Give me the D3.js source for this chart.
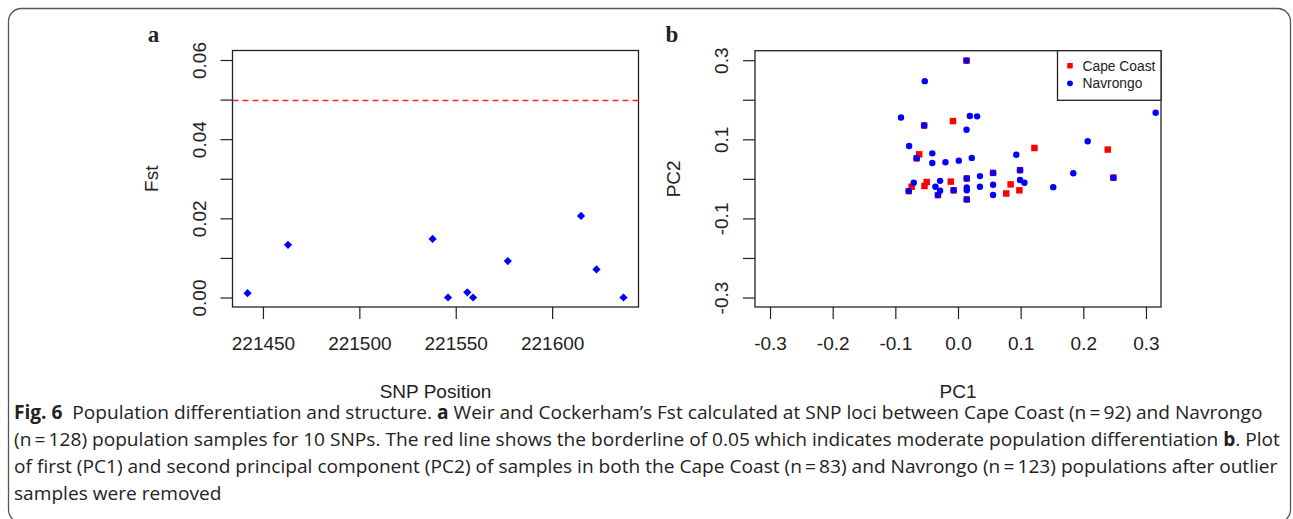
<!DOCTYPE html>
<html>
<head>
<meta charset="utf-8">
<script src="https://cdn.jsdelivr.net/npm/d3@7"></script>
<style>
  body { margin: 0; background: #fff; }
  svg text { font-family: "Liberation Sans", Arial, sans-serif; fill: #222; }
  .caption text { font-family: "Open Sans", "Noto Sans", sans-serif; }
</style>
</head>
<body>
<div id="fig"></div>
<script>
// ---- panel a : Fst per SNP
const snpPos = [221442, 221463, 221538, 221546, 221556, 221559, 221577, 221615, 221623, 221637];
const fstVal = [0.0011, 0.0133, 0.0148, 0.0000, 0.0013, 0.0000, 0.0092, 0.0206, 0.0071, 0.0000];
const fstXTicks = [221450, 221500, 221550, 221600];
const fstYTicks = [0, 0.01, 0.02, 0.03, 0.04, 0.05, 0.06];
const fstYLabels = ["0.00", "", "0.02", "", "0.04", "", "0.06"];
const fstLimit = [0, 0.06];
const fstCutoff = 0.05;

// ---- panel b : PCA
const capeX = [0.0136, -0.054, -0.008, -0.062, -0.066, 0.122, 0.239, 0.099, 0.248, 0.056, 0.014, 0.014,
  -0.007, -0.032, -0.0786, -0.0115, -0.050, -0.0535, -0.074, 0.084, 0.077, 0.098];
const capeY = [0.299, 0.135, 0.146, 0.062, 0.052, 0.078, 0.074, 0.022, 0.003, 0.015, 0.001, -0.052,
  -0.029, -0.041, -0.031, -0.007, -0.008, -0.018, -0.020, -0.014, -0.037, -0.029];
const navX = [-0.091, -0.053, 0.0136, 0.019, 0.0305, 0.0136, -0.054, -0.078, 0.3155, 0.207, -0.041, -0.041,
  -0.020, 0.0013, 0.022, -0.066, 0.093, 0.099, 0.184, 0.248, 0.152, 0.056, 0.056, 0.056, 0.035, 0.035,
  0.014, 0.014, 0.014, 0.014, 0.099, 0.106, -0.007, -0.0286, -0.0286, -0.036, -0.032, -0.0706, -0.0786];
const navY = [0.155, 0.247, 0.299, 0.159, 0.158, 0.124, 0.135, 0.083, 0.167, 0.095, 0.0645, 0.040,
  0.042, 0.046, 0.053, 0.052, 0.061, 0.022, 0.014, 0.003, -0.021, 0.015, -0.015, -0.041, 0.007, -0.020,
  0.001, -0.0215, -0.029, -0.052, -0.003, -0.010, -0.029, -0.005, -0.030, -0.020, -0.041, -0.010, -0.031];
const pcTicks = [-0.3, -0.2, -0.1, 0, 0.1, 0.2, 0.3];
const pcXLabels = ["-0.3", "-0.2", "-0.1", "0.0", "0.1", "0.2", "0.3"];
const pcYLabels = ["-0.3", "", "-0.1", "", "0.1", "", "0.3"];
const pcLimit = [-0.3, 0.3];
const groups = ["Cape Coast", "Navrongo"];

// ---- caption, one entry per line, [text, bold]
const captionLines = [
  [["Fig. 6", true], ["  Population differentiation and structure. ", false], ["a", true],
   [" Weir and Cockerham\u2019s Fst calculated at SNP loci between Cape Coast (n\u2009=\u200992) and Navrongo", false]],
  [["(n\u2009=\u2009128) population samples for 10 SNPs. The red line shows the borderline of 0.05 which indicates moderate population differentiation ", false],
   ["b", true], [". Plot", false]],
  [["of first (PC1) and second principal component (PC2) of samples in both the Cape Coast (n\u2009=\u200983) and Navrongo (n\u2009=\u2009123) populations after outlier", false]],
  [["samples were removed", false]]
];

const W = 1293, H = 519;
const svg = d3.select("#fig").append("svg").attr("width", W).attr("height", H);

svg.append("rect")
  .attr("x", 8.5).attr("y", 8.5).attr("width", 1282).attr("height", 514).attr("rx", 13)
  .attr("fill", "none").attr("stroke", "#555").attr("stroke-width", 1.3);

// R style 4% padding of the axis range
function rpad(ext) {
  const d = (ext[1] - ext[0]) * 0.04;
  return [ext[0] - d, ext[1] + d];
}

function drawPanel(opt) {
  const g = svg.append("g");
  const x = d3.scaleLinear().domain(opt.xDomain).range([opt.left, opt.right]);
  const y = d3.scaleLinear().domain(opt.yDomain).range([opt.bottom, opt.top]);

  const xa = g.append("g")
    .attr("transform", "translate(0," + opt.bottom + ")")
    .call(d3.axisBottom(x).tickValues(opt.xTicks).tickSize(12).tickSizeOuter(0).tickPadding(18)
      .tickFormat((d, i) => opt.xLabels[i]));
  xa.select(".domain").remove();
  xa.selectAll("line").attr("stroke", "#222").attr("stroke-width", 1.2);
  xa.selectAll("text").style("font-size", "19px").attr("fill", "#222")
    .style("font-family", "'Liberation Sans', Arial, sans-serif");

  const ya = g.append("g")
    .attr("transform", "translate(" + opt.left + ",0)")
    .call(d3.axisLeft(y).tickValues(opt.yTicks).tickSize(12).tickSizeOuter(0)
      .tickFormat((d, i) => opt.yLabels[i]));
  ya.select(".domain").remove();
  ya.selectAll("line").attr("stroke", "#222").attr("stroke-width", 1.2);
  ya.selectAll("text")
    .attr("x", null).attr("dy", null)
    .attr("transform", "translate(" + opt.yLabelOff + ",0) rotate(-90)")
    .attr("text-anchor", "middle")
    .attr("fill", "#222")
    .style("font-size", "19px")
    .style("font-family", "'Liberation Sans', Arial, sans-serif");

  g.append("text")
    .attr("x", (opt.left + opt.right) / 2).attr("y", 397.5)
    .attr("text-anchor", "middle").style("font-size", "19px")
    .text(opt.xTitle);
  g.append("text")
    .attr("transform", "translate(" + opt.yTitleX + "," + (opt.top + opt.bottom) / 2 + ") rotate(-90)")
    .attr("text-anchor", "middle").style("font-size", "19px")
    .text(opt.yTitle);

  g.append("text")
    .attr("x", opt.letterX).attr("y", 42)
    .attr("text-anchor", "middle")
    .style("font-family", "'Liberation Serif', 'Times New Roman', serif")
    .style("font-weight", "bold").style("font-size", "23px")
    .text(opt.letter);

  g.append("rect")
    .attr("x", opt.left).attr("y", opt.top)
    .attr("width", opt.right - opt.left).attr("height", opt.bottom - opt.top)
    .attr("fill", "none").attr("stroke", "#222").attr("stroke-width", 1.3);

  return {g: g, x: x, y: y};
}

// panel a
const pa = drawPanel({
  left: 232.5, right: 638.5, top: 50.5, bottom: 307,
  xDomain: rpad(d3.extent(snpPos)), yDomain: rpad(fstLimit),
  xTicks: fstXTicks, xLabels: fstXTicks.map(String),
  yTicks: fstYTicks, yLabels: fstYLabels, yLabelOff: -26.5,
  xTitle: "SNP Position", yTitle: "Fst", yTitleX: 158, letter: "a", letterX: 153.5
});

pa.g.append("line")
  .attr("x1", pa.x.range()[0]).attr("x2", pa.x.range()[1])
  .attr("y1", Math.round(pa.y(fstCutoff)) + 0.5).attr("y2", Math.round(pa.y(fstCutoff)) + 0.5)
  .attr("stroke", "#ff2020").attr("stroke-width", 1.4).attr("stroke-dasharray", "6,4");

const diamond = d3.symbol().type(d3.symbolSquare).size(34);
pa.g.selectAll("path.fst")
  .data(snpPos)
  .join("path")
  .attr("class", "fst")
  .attr("d", diamond)
  .attr("transform", (d, i) => "translate(" + pa.x(d) + "," + pa.y(fstVal[i]) + ") rotate(45)")
  .attr("fill", "#0000ff");

// panel b
const pb = drawPanel({
  left: 755, right: 1161, top: 50.7, bottom: 307,
  xDomain: rpad(pcLimit), yDomain: rpad(pcLimit),
  xTicks: pcTicks, xLabels: pcXLabels,
  yTicks: pcTicks, yLabels: pcYLabels, yLabelOff: -27,
  xTitle: "PC1", yTitle: "PC2", yTitleX: 680, letter: "b", letterX: 672
});

const square = d3.symbol().type(d3.symbolSquare).size(42);
pb.g.selectAll("path.cape")
  .data(capeX)
  .join("path")
  .attr("class", "cape")
  .attr("d", square)
  .attr("transform", (d, i) => "translate(" + pb.x(d) + "," + pb.y(capeY[i]) + ")")
  .attr("fill", "#ff0000");

pb.g.selectAll("circle.nav")
  .data(navX)
  .join("circle")
  .attr("class", "nav")
  .attr("cx", d => pb.x(d))
  .attr("cy", (d, i) => pb.y(navY[i]))
  .attr("r", 3.2)
  .attr("fill", "#0000ff");

// legend
const lg = pb.g.append("g");
lg.append("rect")
  .attr("x", 1057.5).attr("y", 50.7).attr("width", 1161 - 1057.5).attr("height", 49.6)
  .attr("fill", "#fff").attr("stroke", "#222").attr("stroke-width", 1.3);
lg.append("path")
  .attr("d", d3.symbol().type(d3.symbolSquare).size(30))
  .attr("transform", "translate(1070,65.7)").attr("fill", "#ff0000");
lg.append("circle")
  .attr("cx", 1070).attr("cy", 83.3).attr("r", 2.9).attr("fill", "#0000ff");
lg.selectAll("text")
  .data(groups)
  .join("text")
  .attr("x", 1082.5)
  .attr("y", (d, i) => 65.7 + i * 17.6)
  .attr("dy", "0.35em")
  .style("font-size", "13.8px")
  .text(d => d);

// caption
const cap = svg.append("g").attr("class", "caption");
const lineY = [419, 446, 473, 500];
const lines = cap.selectAll("text")
  .data(captionLines)
  .join("text")
  .attr("x", 0)
  .attr("y", (d, i) => lineY[i])
  .style("font-size", "19px")
  .attr("fill", "#222")
  .attr("xml:space", "preserve")
  .style("white-space", "pre");
lines.selectAll("tspan")
  .data(d => d)
  .join("tspan")
  .style("font-weight", d => d[1] ? "bold" : "normal")
  .text(d => d[0]);

// squeeze caption horizontally to the condensed look of the original
const natural = lines.nodes()[0].getComputedTextLength();
const k = (1263 - 14) / natural;
cap.attr("transform", "translate(14,0) scale(" + k + ",1)");
</script>
</body>
</html>
